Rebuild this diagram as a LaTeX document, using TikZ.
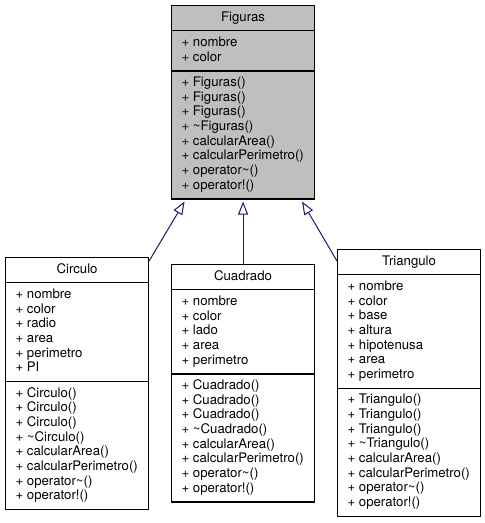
\documentclass[tikz,border=0pt]{standalone}
\usepackage{fontspec}
\setmainfont{TeX Gyre Heros}
\usetikzlibrary{shapes.multipart,arrows.meta,calc}
\definecolor{edgeblue}{HTML}{191970}
\definecolor{basegray}{HTML}{BFBFBF}
% one compartment of a class box
\newcommand{\cpart}[2][l]{\makebox[123pt][#1]{\begin{tabular}{@{}l@{}}#2\end{tabular}}}
\newcommand{\tl}{\textasciitilde}

\begin{document}
\begin{tikzpicture}[x=1pt,y=-1pt,
  classbox/.style={draw=black, line width=1.1pt, fill=white, rectangle split, rectangle split parts=3,
    inner xsep=10pt, inner ysep=4.8pt, anchor=north west, font=\fontsize{13.2}{14.67}\selectfont},
  inherit/.style={draw=edgeblue, line width=1pt, -{Triangle[open,length=13pt,width=10pt]}}]
\useasboundingbox (0,0) rectangle (485,523);
\node[classbox, fill=basegray] (figuras) at (171,5)
  {\cpart[c]{Figuras}\nodepart{two}\cpart{+ nombre\\+ color}\nodepart{three}\cpart{+ Figuras()\\+ Figuras()\\+ Figuras()\\+ \tl Figuras()\\+ calcularArea()\\+ calcularPerimetro()\\+ operator\tl()\\+ operator!()}};
\node[classbox] (circulo) at (5,257)
  {\cpart[c]{Circulo}\nodepart{two}\cpart{+ nombre\\+ color\\+ radio\\+ area\\+ perimetro\\+ PI}\nodepart{three}\cpart{+ Circulo()\\+ Circulo()\\+ Circulo()\\+ \tl Circulo()\\+ calcularArea()\\+ calcularPerimetro()\\+ operator\tl()\\+ operator!()}};
\node[classbox] (cuadrado) at (171,264)
  {\cpart[c]{Cuadrado}\nodepart{two}\cpart{+ nombre\\+ color\\+ lado\\+ area\\+ perimetro}\nodepart{three}\cpart{+ Cuadrado()\\+ Cuadrado()\\+ Cuadrado()\\+ \tl Cuadrado()\\+ calcularArea()\\+ calcularPerimetro()\\+ operator\tl()\\+ operator!()}};
\node[classbox] (triangulo) at (337,249)
  {\cpart[c]{Triangulo}\nodepart{two}\cpart{+ nombre\\+ color\\+ base\\+ altura\\+ hipotenusa\\+ area\\+ perimetro}\nodepart{three}\cpart{+ Triangulo()\\+ Triangulo()\\+ Triangulo()\\+ \tl Triangulo()\\+ calcularArea()\\+ calcularPerimetro()\\+ operator\tl()\\+ operator!()}};
% inheritance arrows
\draw[inherit] ($(circulo.north east)+(0,4)$) -- ($(figuras.south)+(-58.5,2)$);
\draw[inherit] (cuadrado.north) -- ($(figuras.south)+(0,2)$);
\draw[inherit] ($(triangulo.north west)+(0,12)$) -- ($(figuras.south)+(59,2)$);
\end{tikzpicture}
\end{document}
